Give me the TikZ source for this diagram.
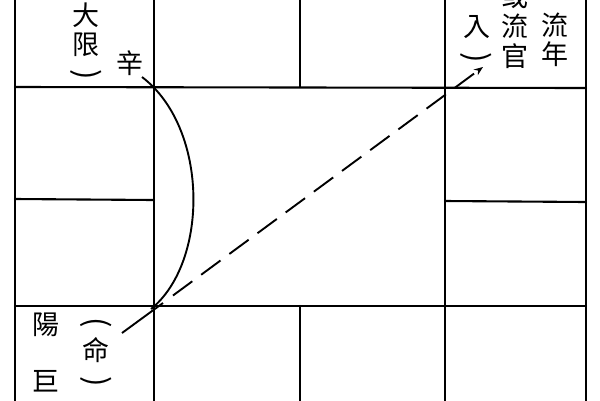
\documentclass[tikz,border=0pt]{standalone}
\usepackage{fontspec}
\newfontfamily\cjk{Noto Sans CJK TC}
\usetikzlibrary{arrows.meta}
\begin{document}
\begin{tikzpicture}[x=1pt,y=-1pt,
  gridline/.style={line width=2.1pt, line cap=round},
  ch/.style={font=\cjk\fontsize{27}{27}\selectfont, inner sep=0pt, anchor=center},
  parl/.style={font=\cjk\fontsize{31}{31}\selectfont, inner sep=0pt, anchor=center, rotate=-90},
  curveline/.style={line width=1.9pt},
  dashline/.style={line width=1.9pt, dash pattern=on 24pt off 11pt},
]
\clip (0,0) rectangle (600,400);
\fill[white] (0,0) rectangle (600,400);

% grid
\draw[gridline] (15,-5) -- (15,405);
\draw[gridline] (154,-5) -- (154,405);
\draw[gridline] (445,-5) -- (445,405);
\draw[gridline] (586,-5) -- (586,405);
\draw[gridline] (15,87) -- (586,88);
\draw[gridline] (15,306) -- (586,306);
\draw[gridline] (15,199) -- (154,200);
\draw[gridline] (445,201) -- (586,202);
\draw[gridline] (300,-5) -- (300,87);
\draw[gridline] (300,306) -- (300,405);

% top-left text
\node[ch] (da) at (86,15) {大};
\node[ch] (xian) at (86,45) {限};
\node[parl] (tlpr) at (86,75) {)};
\node[ch] (xin) at (130,63) {辛};

% top-right text
\node[ch] (ru) at (477,27) {入};
\node[parl] (trpr) at (476,58) {)};
\node[ch] (huo) at (515,-4) {或};
\node[ch] (liu1) at (515,26) {流};
\node[ch] (guan) at (515,56) {官};
\node[ch] (liu2) at (555,25) {流};
\node[ch] (nian) at (555,54) {年};

% bottom-left text
\node[ch] (yang) at (46,325) {陽};
\node[ch] (ju) at (46,381) {巨};
\node[parl] (blpl) at (96,323) {(};
\node[ch] (ming) at (96,350) {命};
\node[parl] (blpr) at (96,382) {)};

% connectors
\coordinate (arcS) at (142,77);
\coordinate (arcE) at (151,309);
\draw[curveline] (arcS) .. controls (209,128) and (209,262) .. (arcE);

\coordinate (dS) at (122,333);
\coordinate (dB) at (163,303);
\coordinate (dC) at (173,295.5);
\coordinate (dT) at (483,67);
\draw[curveline] (dS) -- (dB);
\draw[dashline, -{Stealth[length=9pt,width=7pt]}] (dC) -- (dT);
\end{tikzpicture}
\end{document}
